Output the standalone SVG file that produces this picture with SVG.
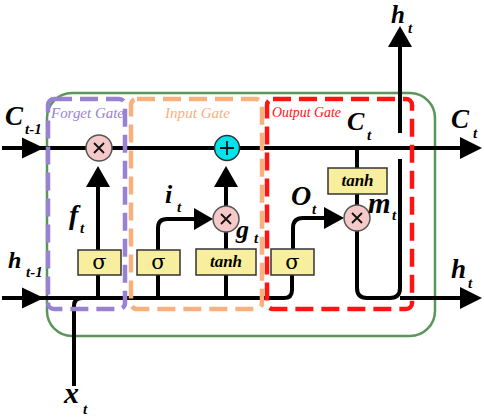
<svg xmlns="http://www.w3.org/2000/svg" width="484" height="417" viewBox="0 0 484 417">
<style>
.ln{fill:none;stroke:#000;stroke-width:4;stroke-linecap:butt;stroke-linejoin:round}
.ah{fill:#000}
.gate{fill:none;stroke-width:4.5;stroke-dasharray:18 8}
.box{fill:#f7ef9e;stroke:#333;stroke-width:1.5}
.mul{fill:#f6c9c9;stroke:#555;stroke-width:1.5}
.add{fill:#00e4ec;stroke:#333;stroke-width:1.5}
.sym{fill:none;stroke:#111;stroke-width:1.8}
.lab{font-family:"Liberation Serif","Times New Roman",serif;font-weight:bold;font-style:italic;fill:#000}
.sub{font-family:"Liberation Serif","Times New Roman",serif;font-weight:bold;font-style:italic;fill:#000;font-size:15px}
.sig{font-family:"DejaVu Serif","Liberation Serif",serif;font-size:21px;fill:#000;text-anchor:middle}
.tanh{font-family:"Liberation Serif",serif;font-weight:bold;font-style:italic;font-size:17px;text-anchor:middle;fill:#000}
.gl{font-family:"Liberation Serif",serif;font-style:italic;font-size:15px}
</style>
<rect x="47" y="93" width="388" height="243" rx="25" fill="none" stroke="#5a9659" stroke-width="2.5"/>
<g id="connectors">
<path class="ln" d="M2,148 H464"/>
<polygon class="ah" points="22,137.5 44,148 22,158.5"/>
<polygon class="ah" points="460,137 482,148 460,159"/>
<path class="ln" d="M2,298 H284 Q292,298 292,290 V275"/>
<polygon class="ah" points="22,287.5 44,298 22,308.5"/>
<path class="ln" d="M74,386 V306 Q74,298 82,298"/>
<path class="ln" d="M98,298 V185"/>
<polygon class="ah" points="86,187 98,166 110,187"/>
<path class="ln" d="M158,298 V228 Q158,219 167,219 H196"/>
<polygon class="ah" points="194,208 213,219 194,230"/>
<path class="ln" d="M226,298 V232"/>
<path class="ln" d="M226,206 V185"/>
<polygon class="ah" points="214,187 226,166 238,187"/>
<path class="ln" d="M293,249 V228 Q293,218 303,218 H326"/>
<polygon class="ah" points="324,207 344,218 324,229"/>
<path class="ln" d="M357,148 V205"/>
<path class="ln" d="M357,231 V288 Q357,298 367,298 H390 Q400,298 400,288 V159"/>
<path class="ln" d="M400,298 H464"/>
<polygon class="ah" points="460,287 482,298 460,309"/>
<path class="ln" d="M400,133 V45"/>
<polygon class="ah" points="388,47 400,26 412,47"/>
</g>
<g id="forget-gate">
<rect class="gate" x="48" y="99" width="77" height="210" rx="6" stroke="#9a82d2"/>
<text class="gl" x="51" y="118" fill="#9a82d2" textLength="73" lengthAdjust="spacingAndGlyphs">Forget Gate</text>
</g>
<g id="input-gate">
<rect class="gate" x="131" y="99" width="131" height="210" rx="6" stroke="#f8b07e"/>
<text class="gl" x="165" y="118" fill="#f8b07e" textLength="65" lengthAdjust="spacingAndGlyphs">Input Gate</text>
</g>
<g id="output-gate">
<rect class="gate" x="267" y="99" width="145" height="210" rx="6" stroke="#ff1414"/>
<text class="gl" x="272" y="117" fill="#ff1414" textLength="69" lengthAdjust="spacingAndGlyphs">Output Gate</text>
</g>
<g id="forget-mul">
<circle class="mul" cx="99" cy="148" r="13"/>
<path class="sym" d="M94,143 L104,153 M104,143 L94,153"/>
</g>
<g id="cell-add">
<circle class="add" cx="227" cy="148" r="12.5"/>
<path class="sym" d="M227,141 V155 M220,148 H234"/>
</g>
<g id="input-mul">
<circle class="mul" cx="226" cy="219" r="13"/>
<path class="sym" d="M221,214 L231,224 M231,214 L221,224"/>
</g>
<g id="output-mul">
<circle class="mul" cx="357" cy="218" r="13"/>
<path class="sym" d="M352,213 L362,223 M362,213 L352,223"/>
</g>
<g id="forget-sigma">
<rect class="box" x="78" y="250" width="43" height="25"/>
<text class="sig" x="99.5" y="269">σ</text>
</g>
<g id="input-sigma">
<rect class="box" x="137" y="250" width="43" height="25"/>
<text class="sig" x="158.5" y="269">σ</text>
</g>
<g id="input-tanh">
<rect class="box" x="196" y="249" width="60" height="26"/>
<text class="tanh" x="226" y="267">tanh</text>
</g>
<g id="output-sigma">
<rect class="box" x="271" y="249" width="43" height="26"/>
<text class="sig" x="292.5" y="269">σ</text>
</g>
<g id="output-tanh">
<rect class="box" x="328" y="168" width="59" height="26"/>
<text class="tanh" x="357.5" y="186">tanh</text>
</g>
<g id="labels">
<text class="lab" x="5" y="125" font-size="27">C</text>
<text class="sub" x="25" y="134">t-1</text>
<text class="lab" x="8" y="268" font-size="24">h</text>
<text class="sub" x="26" y="277">t-1</text>
<text class="lab" x="391" y="23" font-size="25">h</text>
<text class="sub" x="408" y="33">t</text>
<text class="lab" x="451" y="128" font-size="27">C</text>
<text class="sub" x="473" y="138">t</text>
<text class="lab" x="347" y="130" font-size="26">C</text>
<text class="sub" x="367" y="140">t</text>
<text class="lab" x="451" y="278" font-size="27">h</text>
<text class="sub" x="468" y="288">t</text>
<text class="lab" x="64" y="403" font-size="30">x</text>
<text class="sub" x="83" y="414">t</text>
<text class="lab" x="69" y="224" font-size="28">f</text>
<text class="sub" x="80" y="233">t</text>
<text class="lab" x="165" y="203" font-size="26">i</text>
<text class="sub" x="177" y="212">t</text>
<text class="lab" x="236" y="238" font-size="26">g</text>
<text class="sub" x="254" y="243">t</text>
<text class="lab" x="291" y="205" font-size="28">O</text>
<text class="sub" x="312" y="214">t</text>
<text class="lab" x="368" y="213" font-size="29">m</text>
<text class="sub" x="392" y="220">t</text>
</g>
</svg>
